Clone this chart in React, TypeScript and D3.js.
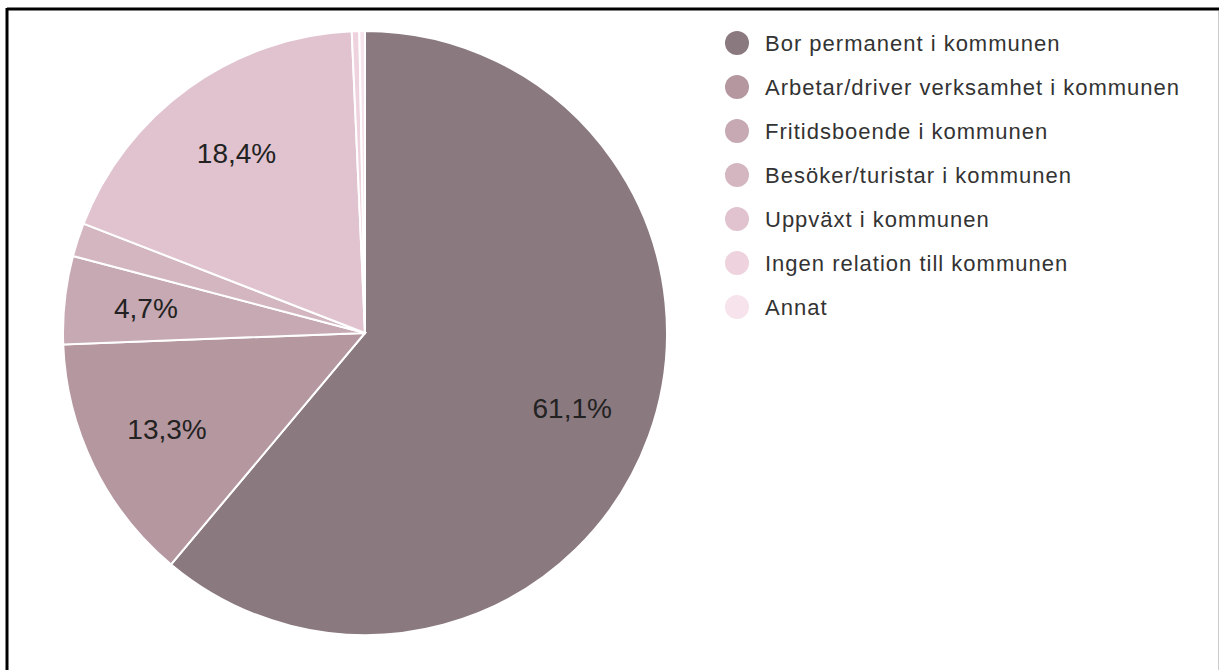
import React from "react";
import * as d3 from "d3";

const categories = [
  "Bor permanent i kommunen",
  "Arbetar/driver verksamhet i kommunen",
  "Fritidsboende i kommunen",
  "Besöker/turistar i kommunen",
  "Uppväxt i kommunen",
  "Ingen relation till kommunen",
  "Annat",
];
const values = [61.1, 13.3, 4.7, 1.8, 18.4, 0.4, 0.3];
const colors = ["#8a797f", "#b5979f", "#c6a9b3", "#d3b6c0", "#e0c3cf", "#eed2dd", "#f7e3eb"];

const W = 1219;
const H = 670;
const cx = 365;
const cy = 333;
const radius = 302;

export default function App() {
  const data = categories.map((name, i) => ({ name, value: values[i], color: colors[i] }));

  const pie = d3
    .pie<{ name: string; value: number; color: string }>()
    .value((d) => d.value)
    .sort(null);
  const arcs = pie(data);

  const arc = d3
    .arc<d3.PieArcDatum<{ name: string; value: number; color: string }>>()
    .innerRadius(0)
    .outerRadius(radius);

  const labelArc = d3
    .arc<d3.PieArcDatum<{ name: string; value: number; color: string }>>()
    .innerRadius(radius * 0.73)
    .outerRadius(radius * 0.73);

  const legendY = d3.scaleLinear().domain([0, 1]).range([43, 87]);

  return (
    <svg
      width={W}
      height={H}
      style={{ position: "absolute", left: 0, top: 0, background: "#fff" }}
      fontFamily="Arial, 'Liberation Sans', sans-serif"
    >
      {/* frame of the screenshot */}
      <line x1={7} y1={9} x2={1219} y2={9} stroke="#000" strokeWidth={3} />
      <line x1={7} y1={8} x2={7} y2={670} stroke="#000" strokeWidth={3} />
      <line x1={1218.5} y1={11} x2={1218.5} y2={670} stroke="#ccc" strokeWidth={1} />

      <g transform={`translate(${cx},${cy})`}>
        {arcs.map((a, i) => (
          <path key={i} d={arc(a) || ""} fill={a.data.color} stroke="#fff" strokeWidth={2} />
        ))}
        {arcs
          .filter((a) => a.data.value >= 4)
          .map((a, i) => {
            const [x, y] = labelArc.centroid(a);
            return (
              <text
                key={i}
                x={x}
                y={y}
                textAnchor="middle"
                dominantBaseline="central"
                fontSize={28}
                fill="#222"
              >
                {a.data.value.toFixed(1).replace(".", ",")}%
              </text>
            );
          })}
      </g>

      <g>
        {data.map((d, i) => (
          <g key={i} transform={`translate(737,${legendY(i)})`}>
            <circle r={12} fill={d.color} />
            <text x={28} y={0} dominantBaseline="central" fontSize={22} letterSpacing={1} fill="#333">
              {d.name}
            </text>
          </g>
        ))}
      </g>
    </svg>
  );
}
